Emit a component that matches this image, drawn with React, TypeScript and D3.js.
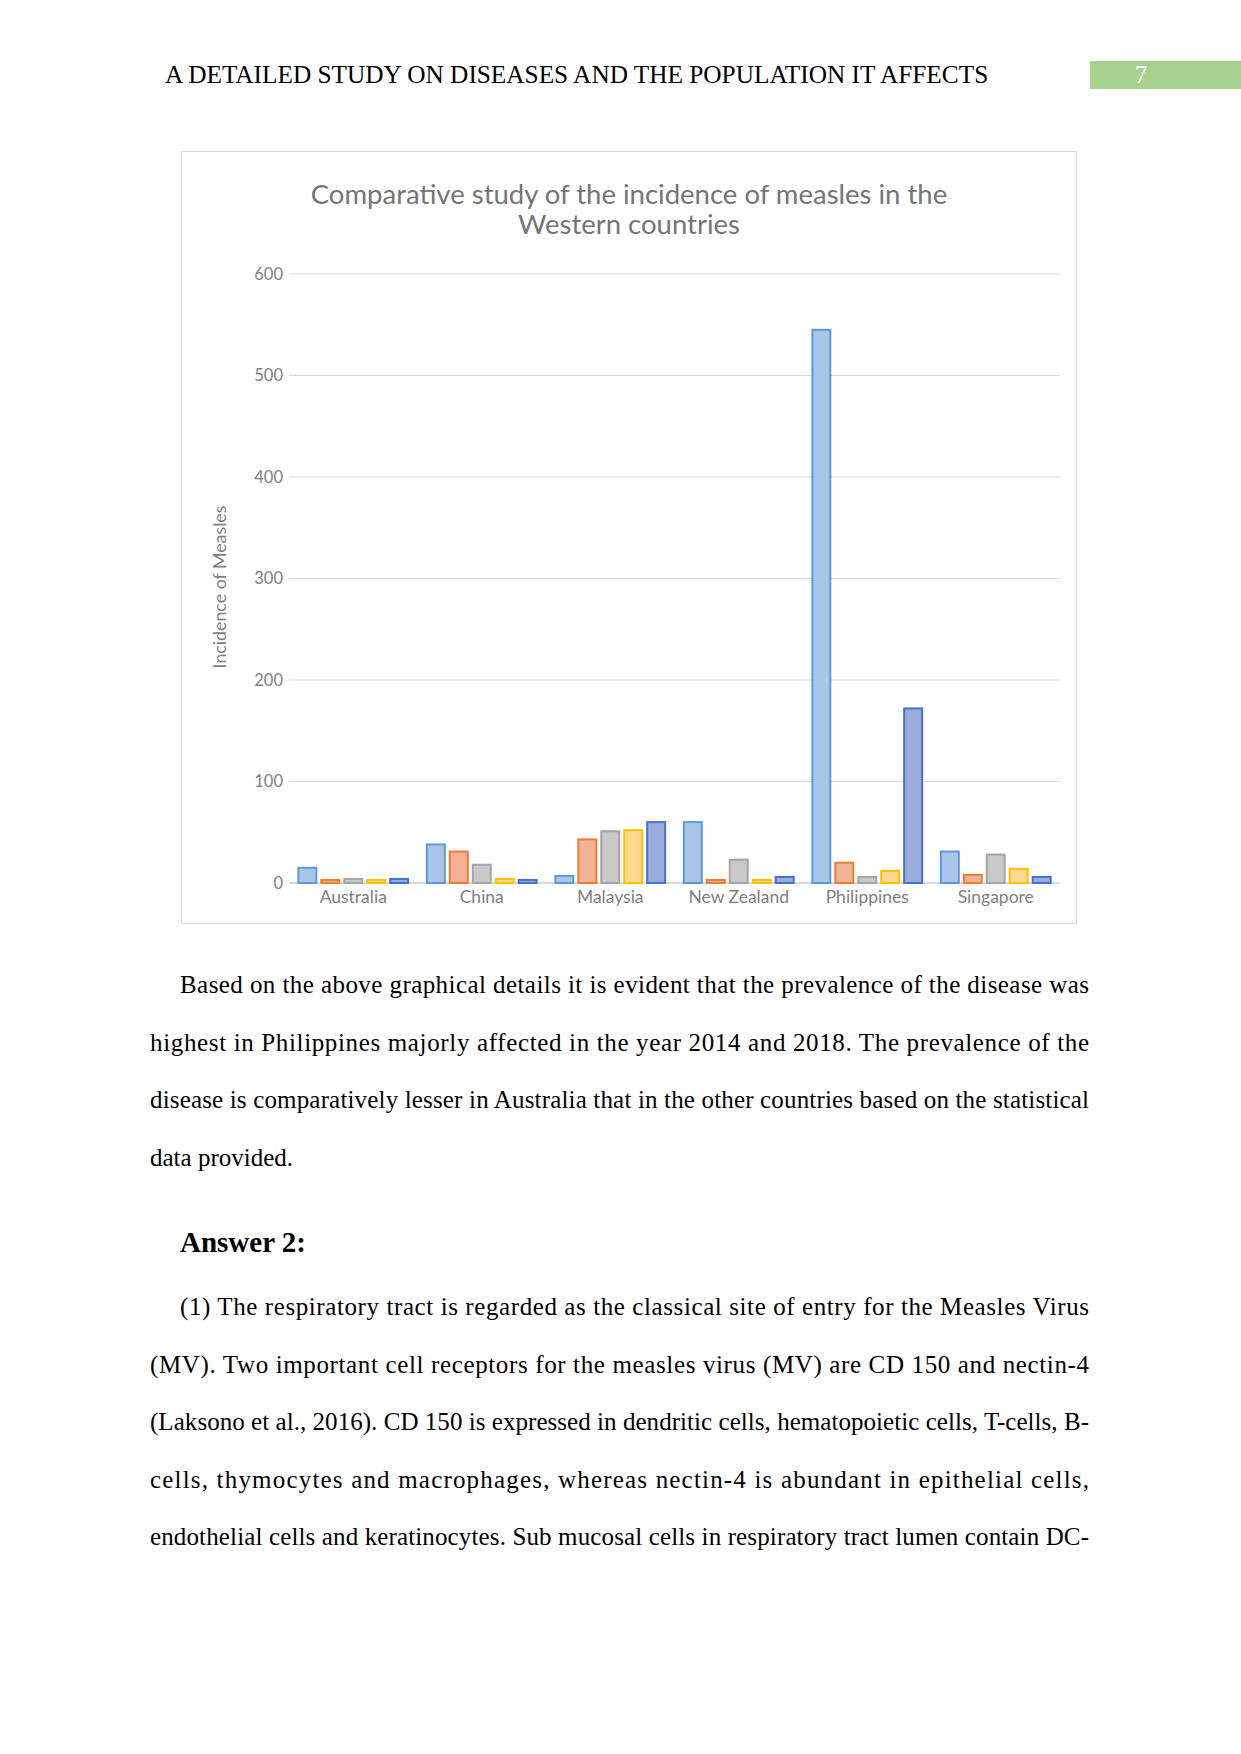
import React from "react";
import * as d3 from "d3";

const categories = ["Australia", "China", "Malaysia", "New Zealand", "Philippines", "Singapore"];
const seriesNames = ["2014", "2015", "2016", "2017", "2018"];
const s2014 = [15, 38, 7, 60, 545, 31];
const s2015 = [3, 31, 43, 3, 20, 8];
const s2016 = [4, 18, 51, 23, 6, 28];
const s2017 = [3, 4, 52, 3, 12, 14];
const s2018 = [4, 3, 60, 6, 172, 6];
const seriesValues = [s2014, s2015, s2016, s2017, s2018];
const yTicks = [0, 100, 200, 300, 400, 500, 600];
const fills = ["#a9c6e8", "#f4b299", "#c9c9c9", "#ffd98f", "#99acdc"];
const strokes = ["#5b9bd5", "#ed7d31", "#a5a5a5", "#ffc000", "#4472c4"];

const chartTitle = ["Comparative study of the incidence of measles in the", "Western countries"];
const yAxisTitle = "Incidence of Measles";
const header = "A DETAILED STUDY ON DISEASES AND THE POPULATION IT AFFECTS";
const pageNo = "7";

const para1 = [
  "Based on the above graphical details it is evident that the prevalence of the disease was",
  "highest in Philippines majorly affected in the year 2014 and 2018. The prevalence of the",
  "disease is comparatively lesser in Australia that in the other countries based on the statistical",
  "data provided.",
];
const heading = "Answer 2:";
const para2 = [
  "(1) The respiratory tract is regarded as the classical site of entry for the Measles Virus",
  "(MV). Two important cell receptors for the measles virus (MV) are CD 150 and nectin-4",
  "(Laksono et al., 2016). CD 150 is expressed in dendritic cells, hematopoietic cells, T-cells, B-",
  "cells, thymocytes and macrophages, whereas nectin-4 is abundant in epithelial cells,",
  "endothelial cells and keratinocytes. Sub mucosal cells in respiratory tract lumen contain DC-",
];

export default function App() {
  const plotLeft = 289;
  const plotRight = 1060;
  const y = d3.scaleLinear().domain([0, 600]).range([883, 274]);
  const x0 = d3.scaleBand<string>().domain(categories).range([plotLeft, plotRight]).paddingInner(0.13).paddingOuter(0.065);
  const x1 = d3.scaleBand<string>().domain(seriesNames).range([0, x0.bandwidth()]).paddingInner(0.13).paddingOuter(0);

  const tickFont = "Lato, 'Noto Sans', sans-serif";
  const serif = "'Liberation Serif', 'Times New Roman', serif";
  const textLeft = 150;
  const textRight = 1089;
  const indent = 180;
  const lineGap = 57.5;

  const bodyLine = (t: string, i: number, first: boolean, last: boolean, y0: number) => {
    const x = first ? indent : textLeft;
    const props: any = {};
    if (!last) {
      props.textLength = textRight - x;
      props.lengthAdjust = "spacing";
    }
    return (
      <text key={t} x={x} y={y0 + i * lineGap} fontFamily={serif} fontSize={25} fill="#000" {...props}>
        {t}
      </text>
    );
  };

  return (
    <svg width={1241} height={1754} style={{ position: "absolute", left: 0, top: 0, background: "#fff" }}>
      <rect x={0} y={0} width={1241} height={1754} fill="#fff" />
      {/* header */}
      <text x={165} y={83} fontFamily={serif} fontSize={25.3} fill="#000">{header}</text>
      <rect x={1090} y={61} width={151} height={28} fill="#a9d18e" />
      <text x={1141} y={83} fontFamily={serif} fontSize={25} fill="#fff" textAnchor="middle">{pageNo}</text>

      {/* chart frame */}
      <rect x={181.5} y={151.5} width={895} height={772} fill="#fff" stroke="#d9d9d9" strokeWidth={1} />
      {chartTitle.map((t, i) => (
        <text key={t} x={629} y={204 + i * 29.5} textAnchor="middle" fontFamily={tickFont} fontSize={27.5} fill="#757575">
          {t}
        </text>
      ))}
      {/* gridlines */}
      {yTicks.map((v) => (
        <g key={v}>
          <line x1={plotLeft} x2={plotRight} y1={y(v)} y2={y(v)} stroke={v === 0 ? "#cfcfcf" : "#d9d9d9"} strokeWidth={v === 0 ? 1.5 : 1} />
          <text x={283} y={y(v)} dy="0.35em" textAnchor="end" fontFamily={tickFont} fontSize={16.5} fill="#7f7f7f">
            {v}
          </text>
        </g>
      ))}
      <text
        transform={`translate(226,587) rotate(-90)`}
        textAnchor="middle"
        fontFamily={tickFont}
        fontSize={17.8}
        fill="#7f7f7f"
      >
        {yAxisTitle}
      </text>
      {/* bars */}
      {categories.map((c, ci) => (
        <g key={c} transform={`translate(${x0(c)},0)`}>
          {seriesNames.map((s, si) => {
            const v = seriesValues[si][ci];
            return (
              <rect
                key={s}
                x={x1(s)! + 1}
                y={y(v)}
                width={x1.bandwidth() - 2}
                height={y(0) - y(v)}
                fill={fills[si]}
                stroke={strokes[si]}
                strokeWidth={2}
              />
            );
          })}
          <text x={x0.bandwidth() / 2} y={903} textAnchor="middle" fontFamily={tickFont} fontSize={17.5} fill="#7f7f7f">
            {c}
          </text>
        </g>
      ))}

      {/* body text */}
      {para1.map((t, i) => bodyLine(t, i, i === 0, i === para1.length - 1, 993))}
      <text x={180} y={1252} fontFamily={serif} fontSize={29} fontWeight="bold" fill="#000">{heading}</text>
      {para2.map((t, i) => bodyLine(t, i, i === 0, false, 1315))}
    </svg>
  );
}
